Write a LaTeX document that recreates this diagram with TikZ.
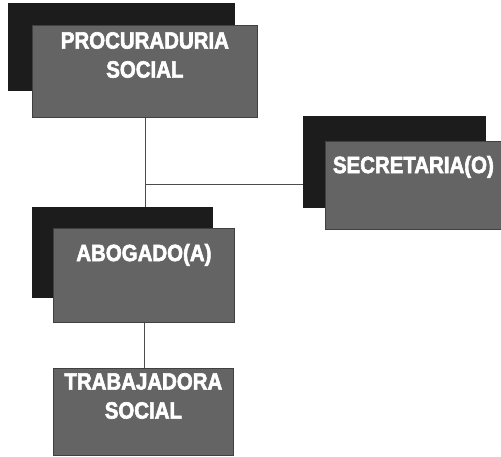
\documentclass[tikz,border=0pt]{standalone}
\usepackage{fontspec}
\newfontfamily\boxfont[FakeStretch=0.87, FakeBold=2.5]{Liberation Sans Bold}
\usepackage{tikz}
\usetikzlibrary{calc}
\definecolor{orgDark}{RGB}{28,28,28}
\definecolor{orgGray}{RGB}{100,100,100}

\begin{document}
\begin{tikzpicture}[x=1pt, y=-1pt,
  shadowbox/.style={draw=orgDark, fill=orgDark, anchor=north west, inner sep=0pt},
  frontbox/.style={draw=black!75, line width=0.8pt, fill=orgGray, anchor=north west, inner sep=0pt},
  lbl/.style={text=white, align=center, inner sep=0pt,
    font=\boxfont\fontsize{23.5}{29}\selectfont},
  link/.style={black!70, line width=0.7pt}]
\useasboundingbox (0,0) rectangle (501,457);
% stacked boxes (dark shadow behind, gray front)
\node[shadowbox, minimum width=226pt, minimum height=87pt] (procS) at (8,3) {};
\node[frontbox, minimum width=225pt, minimum height=92pt] (proc) at (32,25) {};
\node[shadowbox, minimum width=182pt, minimum height=91pt] (secrS) at (303,116) {};
\node[frontbox, minimum width=176pt, minimum height=88pt] (secr) at (325,141) {};
\node[shadowbox, minimum width=180pt, minimum height=90pt] (abogS) at (32,207) {};
\node[frontbox, minimum width=181pt, minimum height=94pt] (abog) at (53,228) {};
\node[frontbox, minimum width=180pt, minimum height=87pt] (trab) at (53,368) {};
% labels
\node[lbl] (procT) at ([yshift=-30pt]proc.north) {PROCURADURIA\\SOCIAL};
\node[lbl] (secrT) at ([yshift=-26pt]secr.north) {SECRETARIA(O)};
\node[lbl] (abogT) at ([yshift=-27pt]abog.north) {ABOGADO(A)};
\node[lbl] (trabT) at ([yshift=-28pt]trab.north) {TRABAJADORA\\SOCIAL};
% connectors
\coordinate (jn) at (proc.south |- 0,184);
\draw[link] (proc.south) -- (proc.south |- abogS.north);
\draw[link] (jn) -- (jn -| secrS.west);
\draw[link] (abog.south) -- (abog.south |- trab.north);
\end{tikzpicture}
\end{document}
